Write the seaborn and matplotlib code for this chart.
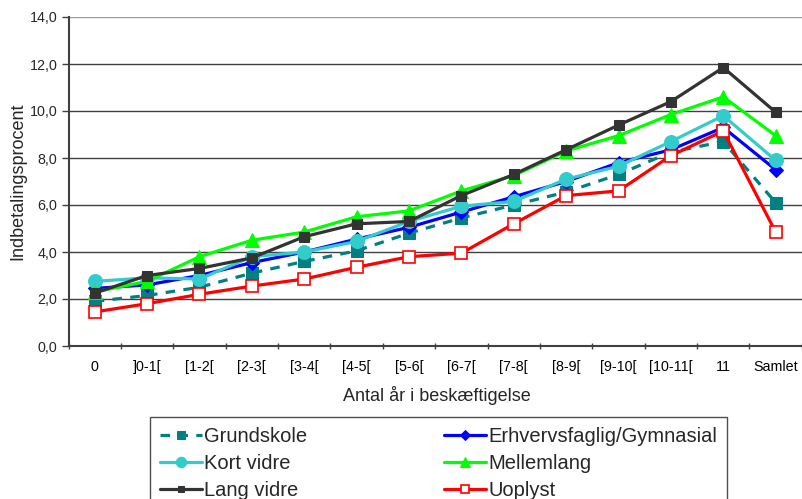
import matplotlib
matplotlib.use("Agg")
import matplotlib.pyplot as plt
import seaborn as sns
import numpy as np
from matplotlib.ticker import FixedLocator, NullFormatter

categories = ["0", "]0-1[", "[1-2[", "[2-3[", "[3-4[", "[4-5[", "[5-6[", "[6-7[",
              "[7-8[", "[8-9[", "[9-10[", "[10-11[", "11", "Samlet"]
grundskole = [1.9, 2.15, 2.5, 3.1, 3.6, 4.05, 4.8, 5.45, 6.0, 6.55, 7.3, 8.25, 8.7, 6.1]
erhverv = [2.45, 2.6, 3.0, 3.55, 4.0, 4.55, 5.05, 5.7, 6.35, 7.0, 7.8, 8.35, 9.3, 7.5]
kort_vidre = [2.75, 2.9, 2.85, 3.8, 4.0, 4.45, 5.3, 5.95, 6.15, 7.1, 7.65, 8.7, 9.8, 7.9]
mellemlang = [2.3, 2.75, 3.8, 4.5, 4.85, 5.5, 5.75, 6.6, 7.25, 8.3, 8.95, 9.85, 10.6, 8.95]
lang_vidre = [2.25, 3.0, 3.3, 3.75, 4.65, 5.2, 5.3, 6.4, 7.3, 8.35, 9.4, 10.4, 11.85, 9.95]
uoplyst = [1.45, 1.8, 2.2, 2.55, 2.85, 3.35, 3.8, 3.95, 5.2, 6.4, 6.6, 8.1, 9.15, 4.85]
y_ticks = [0, 2, 4, 6, 8, 10, 12, 14]
y_ticklabels = ["0,0", "2,0", "4,0", "6,0", "8,0", "10,0", "12,0", "14,0"]

sns.set_style("white")
plt.rcParams["font.family"] = ["Liberation Sans", "DejaVu Sans"]

fig = plt.figure(figsize=(8.02, 4.99), dpi=100)
ax = fig.add_axes([68.5 / 802, (499 - 346) / 499, (805 - 68.5) / 802, (346 - 17) / 499])

x = np.arange(len(categories))
series = [
    ("Grundskole", grundskole, dict(color="#008080", marker="s", markersize=8.5,
                                    markerfacecolor="#008080", markeredgecolor="#008080",
                                    linestyle=(0, (3, 2.6)))),
    ("Erhvervsfaglig/Gymnasial", erhverv, dict(color="#0000FF", marker="D", markersize=7,
                                               markerfacecolor="#0000FF", markeredgecolor="#0000FF")),
    ("Kort vidre", kort_vidre, dict(color="#33CCCC", marker="o", markersize=10,
                                    markerfacecolor="#33CCCC", markeredgecolor="#33CCCC")),
    ("Mellemlang", mellemlang, dict(color="#00FF00", marker="^", markersize=10,
                                    markerfacecolor="#00FF00", markeredgecolor="#00FF00")),
    ("Lang vidre", lang_vidre, dict(color="#333333", marker="s", markersize=6.5,
                                    markerfacecolor="#333333", markeredgecolor="#333333")),
    ("Uoplyst", uoplyst, dict(color="#FF0000", marker="s", markersize=8.5,
                              markerfacecolor="white", markeredgecolor="#FF0000",
                              markeredgewidth=1.2)),
]

handles = []
for name, vals, kw in series:
    sns.lineplot(x=x, y=vals, ax=ax, linewidth=2.3, label=name, legend=False, **kw)
    handles.append(ax.lines[-1])

ax.set_xlim(-0.5, 13.56)
ax.set_ylim(0, 14)

for yv in y_ticks[1:]:
    ax.axhline(yv, color="#404040" if yv < 14 else "#9a9a9a", linewidth=1.0, zorder=0)

ax.set_yticks(y_ticks)
ax.set_yticklabels(y_ticklabels, fontsize=10.3)
ax.set_xticks(x)
ax.set_xticklabels(categories, fontsize=10.3)
ax.xaxis.set_minor_locator(FixedLocator(np.arange(-0.5, 14, 1.0)))
ax.xaxis.set_minor_formatter(NullFormatter())
ax.tick_params(axis="x", which="major", length=0, pad=10, colors="black")
ax.tick_params(axis="x", which="minor", length=5, width=1, color="#404040", direction="inout")
ax.tick_params(axis="y", which="major", length=5, width=1, color="#404040", direction="out", pad=3)
ax.tick_params(axis="x", bottom=True, which="both")
ax.tick_params(axis="y", left=True)

for s in ["top", "right"]:
    ax.spines[s].set_visible(False)
for s in ["left", "bottom"]:
    ax.spines[s].set_color("#404040")
    ax.spines[s].set_linewidth(1.5)

ax.set_xlabel("Antal år i beskæftigelse", fontsize=13, labelpad=9)
ax.set_ylabel("Indbetalingsprocent", fontsize=13, labelpad=2)

# order legend row-wise as in the reference: two columns
order = [0, 2, 4, 1, 3, 5]
leg = fig.legend([handles[i] for i in order], [series[i][0] for i in order],
                 loc="upper left", bbox_to_anchor=(150 / 802, 1 - 417 / 499, (727 - 150) / 802, 0),
                 bbox_transform=fig.transFigure, mode="expand", ncol=2,
                 fontsize=14.5, frameon=True, fancybox=False, shadow=False,
                 handlelength=2.1, handletextpad=0.1, labelspacing=0.4,
                 borderpad=0.5, borderaxespad=0.0, markerscale=0.75)
leg.get_frame().set_edgecolor("#222222")
leg.get_frame().set_linewidth(1.0)

fig.savefig("out.png", dpi=100)
